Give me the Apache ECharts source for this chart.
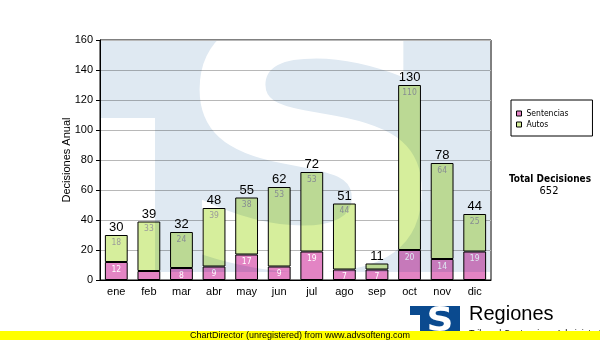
<!DOCTYPE html>
<html>
<head>
<meta charset="utf-8">
<script src="https://cdn.jsdelivr.net/npm/echarts@6/dist/echarts.min.js"></script>
<style>
  html, body { margin: 0; padding: 0; background: #fff; }
  #chart { width: 600px; height: 340px; }
</style>
</head>
<body>
<div id="chart"></div>
<script>
// Monthly decisions, split by kind
const months = ['ene', 'feb', 'mar', 'abr', 'may', 'jun', 'jul', 'ago', 'sep', 'oct', 'nov', 'dic'];
const sentencias = [12, 6, 8, 9, 17, 9, 19, 7, 7, 20, 14, 19];
const autos = [18, 33, 24, 39, 38, 53, 53, 44, 4, 110, 64, 25];

// Value axis range
const yMin = 0;
const yMax = 160;
const yStep = 20;

const totals = sentencias.map((v, i) => v + autos[i]);
const grandTotal = totals.reduce((a, b) => a + b, 0);

const SANS = '"Liberation Sans", Arial, sans-serif';
const SMALL = '"DejaVu Sans Condensed", "DejaVu Sans", sans-serif';

// segment labels only where the segment is tall enough to hold them
const minLabelled = 7;
const segLabel = p => (p.value >= minLabelled ? String(p.value) : '');

// "TS" emblem: a filled block with a notch at the lower left and a big S
function emblem(x, y, w, h, notchW, notchTop, sx, sy, sSize, sStretch, fill, zlevel, z) {
  return [
    { type: 'rect', zlevel, z, silent: true,
      shape: { x, y, width: w, height: h }, style: { fill } },
    { type: 'rect', zlevel, z: z + 1, silent: true,
      shape: { x, y: notchTop, width: notchW, height: y + h - notchTop }, style: { fill: '#fff' } },
    { type: 'text', zlevel, z: z + 2, silent: true, x: sx, y: sy,
      scaleX: sStretch, originX: 0, originY: 0,
      style: { text: 'S', fill: '#fff', font: 'bold ' + sSize + 'px "DejaVu Sans", sans-serif',
               textAlign: 'center', textVerticalAlign: 'middle' } }
  ];
}

const chart = echarts.init(document.getElementById('chart'), null, { renderer: 'canvas' });

const option = {
  animation: false,
  backgroundColor: '#fff',
  grid: {
    left: 100, right: 109, top: 40, bottom: 60,
    show: true, borderColor: '#000', borderWidth: 1, backgroundColor: 'transparent'
  },
  legend: {
    data: ['Sentencias', 'Autos'],
    orient: 'vertical',
    left: 511, top: 100,
    itemWidth: 5, itemHeight: 5, itemGap: 0,
    padding: [8, 24, 6, 5],
    borderColor: '#000', borderWidth: 1, backgroundColor: '#fff',
    icon: 'rect',
    selectedMode: false,
    itemStyle: { borderColor: '#000', borderWidth: 1 },
    textStyle: { fontFamily: SMALL, fontSize: 8.5, color: '#000', lineHeight: 11 }
  },
  xAxis: {
    type: 'category',
    data: months,
    axisLine: { lineStyle: { color: '#000', width: 1 } },
    axisTick: { alignWithLabel: true, length: 4, lineStyle: { color: '#000' } },
    axisLabel: { color: '#000', fontFamily: SANS, fontSize: 11, margin: 6 }
  },
  yAxis: {
    type: 'value',
    min: yMin, max: yMax, interval: yStep,
    name: 'Decisiones Anual',
    nameLocation: 'middle',
    nameGap: 28,
    nameMoveOverlap: false,
    nameTextStyle: { color: '#000', fontFamily: SANS, fontSize: 11 },
    axisLine: { show: true, lineStyle: { color: '#000', width: 1 } },
    axisTick: { show: true, length: 4, lineStyle: { color: '#000' } },
    axisLabel: { color: '#000', fontFamily: SANS, fontSize: 11, margin: 7 },
    splitLine: { show: true, lineStyle: { color: '#b8b8b8', width: 1 } }
  },
  series: [
    {
      name: 'Sentencias', type: 'bar', stack: 'dec', barWidth: '70%',
      data: sentencias,
      itemStyle: { color: '#e384c4', borderColor: '#000', borderWidth: 1 },
      label: { show: true, position: 'insideTop', distance: 3, color: '#fff',
               fontFamily: SMALL, fontSize: 8.5, formatter: segLabel }
    },
    {
      name: 'Autos', type: 'bar', stack: 'dec', barWidth: '70%',
      data: autos,
      itemStyle: { color: '#d6ee9c', borderColor: '#000', borderWidth: 1 },
      label: { show: true, position: 'insideTop', distance: 3, color: '#9a9a9a',
               fontFamily: SMALL, fontSize: 8.5, formatter: segLabel }
    },
    {
      // zero-height cap on each stack carrying the month total
      name: 'Total', type: 'bar', stack: 'dec', barWidth: '70%',
      data: months.map(() => 0),
      itemStyle: { color: 'transparent', borderWidth: 0 },
      label: { show: true, position: 'top', distance: 1, color: '#000',
               fontFamily: SANS, fontSize: 13,
               formatter: p => String(totals[p.dataIndex]) }
    }
  ],
  graphic: {
    elements: [
      // watermark inside the plot area (own layer, multiplied over the bars)
      ...emblem(101, 41, 389, 231, 54, 118, 311, 178, 345, 1.12, '#dfe9f2', 1, 0),

      { type: 'text', left: 551 - 42, top: 174, silent: true,
        style: { text: 'Total Decisiones', fill: '#000', font: 'bold 10px ' + SMALL, width: 84, align: 'center' } },
      { type: 'text', x: 549, y: 191, silent: true,
        style: { text: String(grandTotal), fill: '#000', font: '11px ' + SMALL,
                 textAlign: 'center', textVerticalAlign: 'middle' } },

      // footer emblem and caption
      ...emblem(410, 306, 50, 30, 10, 315, 440, 322, 34, 1.1, '#0a4a8f', 0, 50),
      { type: 'text', x: 469, y: 314, z: 60, silent: true,
        style: { text: 'Regiones', fill: '#000', font: '20px ' + SANS,
                 textAlign: 'left', textVerticalAlign: 'middle' } },
      { type: 'text', x: 469, y: 334, z: 60, silent: true,
        style: { text: 'Tribunal Contencioso Administrativo', fill: '#000', font: '9px ' + SANS,
                 textAlign: 'left', textVerticalAlign: 'middle' } },
      { type: 'rect', z: 70, silent: true,
        shape: { x: 0, y: 331, width: 600, height: 9 }, style: { fill: '#ffff00' } },
      { type: 'text', x: 300, y: 335.5, z: 71, silent: true,
        style: { text: 'ChartDirector (unregistered) from www.advsofteng.com', fill: '#000',
                 font: '9px ' + SANS, textAlign: 'center', textVerticalAlign: 'middle' } }
    ]
  }
};

chart.setOption(option);

// composite the watermark layer by multiplication so bars darken beneath it
function blendWatermark() {
  const layer = document.querySelector('#chart canvas[data-zr-dom-id="zr_1"]');
  if (layer) layer.style.mixBlendMode = 'multiply';
}
blendWatermark();
chart.on('finished', blendWatermark);
requestAnimationFrame(blendWatermark);
</script>
</body>
</html>
